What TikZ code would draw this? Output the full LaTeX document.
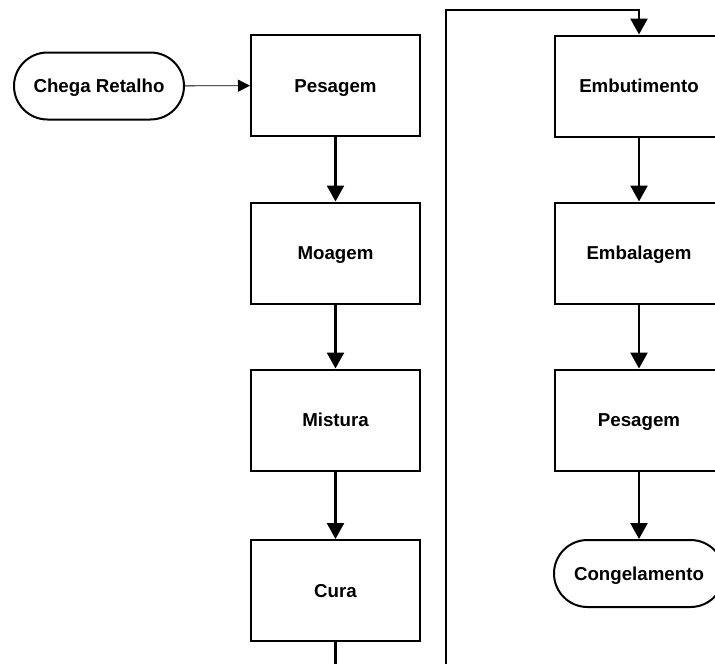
\documentclass[tikz,border=0pt]{standalone}
\usepackage{fontspec}
\setmainfont{Liberation Sans}
\usetikzlibrary{arrows.meta}
\begin{document}
\begin{tikzpicture}[x=1pt,y=-1pt,
  every node/.style={font=\fontsize{18.7}{22}\selectfont\bfseries,text height=13.4pt,text depth=0pt},
  procbox/.style={draw,line width=2pt,rectangle,minimum width=169pt,minimum height=101pt,inner sep=0pt},
  term/.style={draw,line width=2pt,rectangle,rounded corners=33.5pt,minimum width=170pt,minimum height=67pt,inner sep=0pt},
  flow/.style={line width=2.6pt,-{Triangle[width=17pt,length=16pt]}},
  thinflow/.style={line width=0.9pt,-{Triangle[width=12pt,length=12pt]}}]
\path[use as bounding box,clip] (0,0) rectangle (715,664);
\node[term] (chega) at (99,86) {Chega Retalho};
\node[procbox] (p1) at (335.5,85.5) {Pesagem};
\node[procbox] (moa) at (335.5,253) {Moagem};
\node[procbox] (mis) at (335.5,420) {Mistura};
\node[procbox] (cura) at (335.5,590.5) {Cura};
\node[procbox] (embu) at (639,86) {Embutimento};
\node[procbox] (emba) at (639,253) {Embalagem};
\node[procbox] (p2) at (639,420) {Pesagem};
\node[term] (cong) at (639,573.5) {Congelamento};
\coordinate (c1) at (446,690);
\coordinate (c2) at (446,10);
\draw[thinflow] (chega) -- (p1);
\draw[flow] (p1) -- (moa);
\draw[flow] (moa) -- (mis);
\draw[flow] (mis) -- (cura);
\draw[flow] (cura.south) |- (c1) -- (c2) -| (embu.north);
\draw[flow] (embu) -- (emba);
\draw[flow] (emba) -- (p2);
\draw[flow] (p2) -- (cong);
\end{tikzpicture}
\end{document}
